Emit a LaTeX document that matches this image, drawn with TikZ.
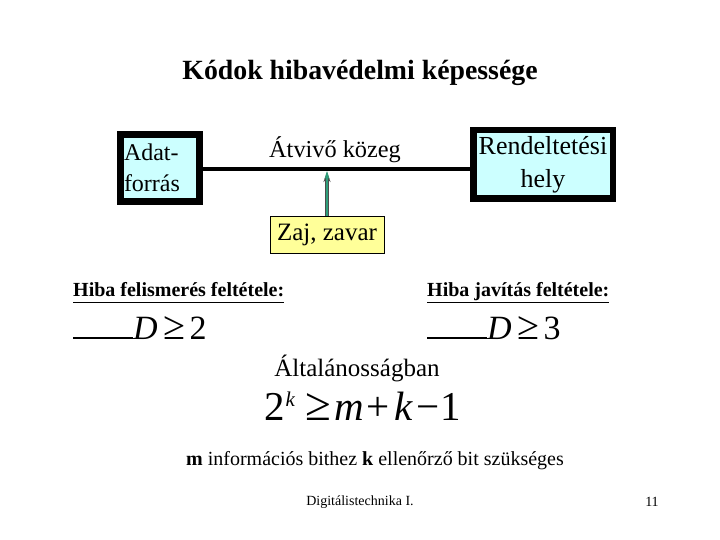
\documentclass[tikz,border=0pt]{standalone}
\usepackage{fontspec}
\setmainfont{Liberation Serif}
\usetikzlibrary{arrows.meta}
\definecolor{boxcyan}{HTML}{CCFFFF}
\definecolor{boxyellow}{HTML}{FFFF99}
\definecolor{noisegreen}{HTML}{2E9E7A}
\tikzset{
  thickbox/.style={draw=black, line width=7pt, fill=boxcyan, inner sep=0pt, align=left},
  noisebox/.style={draw=black, line width=0.8pt, fill=boxyellow, inner sep=0pt},
  txt/.style={inner sep=0pt},
  eqtxt/.style={inner sep=0pt, font=\fontsize{34}{38}\selectfont},
  ineqtxt/.style={inner sep=0pt, font=\fontsize{41}{44}\selectfont},
}
\newcommand{\midge}{{\fontsize{40}{40}\selectfont ≥}}
\newcommand{\bigge}{{\fontsize{47}{47}\selectfont ≥}}
\begin{document}
\begin{tikzpicture}[x=1pt,y=-1pt]
\useasboundingbox (0,0) rectangle (720,540);
\node[txt, font=\bfseries\fontsize{27.8}{32}\selectfont] (title) at (360,73) {Kódok hibavédelmi képessége};
\node[thickbox, minimum width=79pt, minimum height=67pt, text width=72pt, font=\fontsize{24}{31}\selectfont] (adat) at (160,168) {Adat-\\forrás};
\node[thickbox, line width=6.5pt, minimum width=139.5pt, minimum height=68.5pt, align=center, font=\fontsize{26}{33}\selectfont] (rend) at (543,164.5) {Rendeltetési\\hely};
\coordinate (ln) at (0,169);
\draw[line width=4pt] (adat.east |- ln) -- (rend.west |- ln);
\node[txt, font=\fontsize{24.3}{28}\selectfont] (kozeg) at (335,150) {Átvivő közeg};
\node[noisebox, minimum width=114pt, minimum height=37pt, font=\fontsize{25}{28}\selectfont] (zaj) at (327,234.5) {Zaj, zavar};
\coordinate (tip) at (327,172);
\draw[line width=4pt, black!70, -{Stealth[length=10pt,width=7pt]}] (zaj.north) -- (tip);
\draw[line width=2.4pt, noisegreen, -{Stealth[length=8pt,width=5pt]}] (zaj.north) -- ([yshift=1pt]tip);
\node[txt, anchor=west, font=\bfseries\fontsize{20}{24}\selectfont] (felism) at (73,293) {\underline{\vphantom{j}Hiba felismerés feltétele:}};
\node[txt, anchor=west, font=\bfseries\fontsize{20}{24}\selectfont] (javit) at (427,293) {\underline{\vphantom{j}Hiba javítás feltétele:}};
\node[txt, anchor=base west, eqtxt] (d2) at (73,339) {\rule[0pt]{60pt}{1.6pt}\textit{D}\hspace{6pt}\midge\hspace{4pt}2};
\node[txt, anchor=base west, eqtxt] (d3) at (427,339) {\rule[0pt]{60pt}{1.6pt}\textit{D}\hspace{6pt}\midge\hspace{4pt}3};
\node[txt, font=\fontsize{25}{28}\selectfont] (altal) at (357,368) {Általánosságban};
\node[ineqtxt, anchor=base west] (ineq) at (264,420) {2\hspace{1pt}{\fontsize{21}{21}\selectfont\raisebox{14pt}{\textit{k}}}\hspace{10pt}\bigge\hspace{3pt}\textit{m}\hspace{3pt}+\hspace{5pt}\textit{k}\hspace{3pt}−\hspace{1pt}1};
\node[txt, font=\fontsize{20}{24}\selectfont] (info) at (375,461) {\textbf{m} információs bithez \textbf{k} ellenőrző bit szükséges};
\node[txt, font=\fontsize{14}{16}\selectfont] (foot) at (360,502) {Digitálistechnika I.};
\node[txt, font=\fontsize{14}{16}\selectfont] (page) at (652,502) {11};
\end{tikzpicture}
\end{document}
